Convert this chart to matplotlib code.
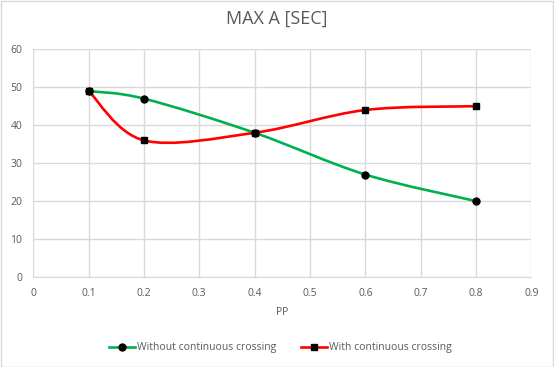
import matplotlib
matplotlib.use('Agg')
from matplotlib import pyplot as plt
from matplotlib.path import Path
from matplotlib.patches import PathPatch, Rectangle
from matplotlib.lines import Line2D
import numpy as np

# ------- Data ---------
pp = [0.1, 0.2, 0.4, 0.6, 0.8]
without_cc = [49, 47, 38, 27, 20]
with_cc = [49, 36, 38, 44, 45]
label_without = 'Without continuous crossing'
label_with = 'With continuous crossing'

GREEN = '#00b050'
RED = '#ff0000'
GRAY = '#595959'

plt.rcParams['font.family'] = ['Open Sans', 'DejaVu Sans']


# Excel-like smoothed line: cubic bezier segments through the data points
def smooth_path(ax, x, y, color):
    pts = ax.transData.transform(np.column_stack([x, y]))
    n = len(pts)
    verts = [pts[0]]
    codes = [Path.MOVETO]
    for i in range(n - 1):
        p0 = pts[i - 1] if i > 0 else pts[i]
        p1 = pts[i]
        p2 = pts[i + 1]
        p3 = pts[i + 2] if i + 2 < n else pts[i + 1]
        c1 = p1 + (p2 - p0) / 6.0
        c2 = p2 - (p3 - p1) / 6.0
        verts += [c1, c2, p2]
        codes += [Path.CURVE4] * 3
    path = Path(verts, codes)
    patch = PathPatch(path, facecolor='none', edgecolor=color, lw=1.9,
                      transform=None, zorder=3, capstyle='round')
    ax.add_patch(patch)


fig = plt.figure(figsize=(5.54, 3.67), dpi=100)
fig.patches.append(Rectangle((0.001, 0.001), 0.997, 0.996, transform=fig.transFigure,
                             facecolor='none', edgecolor='#d9d9d9', lw=1))
ax = fig.add_axes([0.0601, 0.2452, 0.899, 0.6205])
ax.set_xlim(0, 0.9)
ax.set_ylim(0, 60)
ax.set_xticks(np.arange(0, 0.91, 0.1))
ax.set_xticklabels(['0', '0.1', '0.2', '0.3', '0.4', '0.5', '0.6', '0.7', '0.8', '0.9'])
ax.set_yticks(range(0, 61, 10))
ax.grid(True, color='#d9d9d9', lw=1)
ax.set_axisbelow(True)
for s in ax.spines.values():
    s.set_visible(False)
ax.spines['bottom'].set_visible(True)
ax.spines['bottom'].set_color('#d9d9d9')
ax.tick_params(length=0, labelsize=7.5, colors=GRAY, pad=8)

fig.canvas.draw()
smooth_path(ax, pp, without_cc, GREEN)
smooth_path(ax, pp, with_cc, RED)
ax.plot(pp, without_cc, linestyle='none', marker='o', color='black', ms=5, zorder=4)
ax.plot(pp, with_cc, linestyle='none', marker='s', color='black', ms=5, zorder=4)

ax.set_xlabel('PP', fontsize=7.5, color=GRAY, labelpad=6)
fig.text(0.5, 0.948, 'MAX A [SEC]', ha='center', va='center', fontsize=13, color=GRAY)

handles = [Line2D([], [], color=GREEN, lw=1.9, marker='o', mfc='black', mec='black', ms=5),
           Line2D([], [], color=RED, lw=1.9, marker='s', mfc='black', mec='black', ms=5)]
fig.legend(handles, [label_without, label_with], loc='center', bbox_to_anchor=(0.506, 0.052),
           ncol=2, frameon=False, fontsize=7.5, labelcolor=GRAY, handlelength=2.5,
           handletextpad=0.25, columnspacing=2.3)

fig.savefig('out.png', dpi=100)
